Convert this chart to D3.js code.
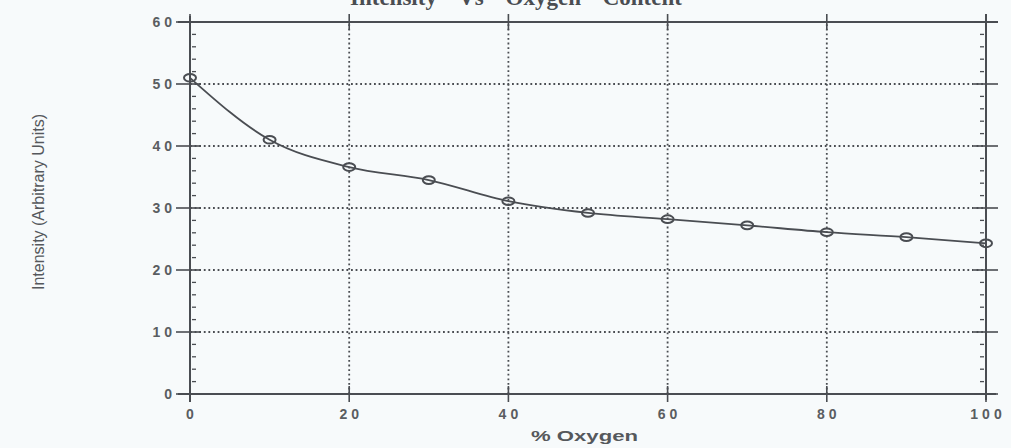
<!DOCTYPE html>
<html><head><meta charset="utf-8">
<script src="https://cdn.jsdelivr.net/npm/d3@7"></script>
<style>
html,body{margin:0;padding:0;background:#f7fafb;}
svg{display:block;}
</style></head><body>
<svg id="c" width="1011" height="448"></svg>
<script>
const oxygen = [0,10,20,30,40,50,60,70,80,90,100];
const intensity = [51,41,36.6,34.5,31.1,29.2,28.2,27.2,26.1,25.3,24.3];
const xTicks = [0,20,40,60,80,100];
const yTicks = [0,10,20,30,40,50,60];
const titleText = "Intensity Vs Oxygen Content";
const xLabel = "% Oxygen";
const yLabel = "Intensity (Arbitrary  Units)";

const svg = d3.select("#c");
const ink = "#4a4d52";
const x = d3.scaleLinear().domain([0,100]).range([190,986]);
const y = d3.scaleLinear().domain([0,60]).range([394,22]);

// title (cut off at top as in the reference)
svg.append("text").attr("x",350).attr("y",5)
  .attr("font-family","Liberation Serif, serif").attr("font-weight","bold")
  .attr("font-size",23).attr("fill",ink).attr("word-spacing","16px")
  .text(titleText);

// grid
const grid = svg.append("g").attr("stroke",ink).attr("stroke-width",1.8).attr("stroke-dasharray","1.8,2.8");
grid.selectAll(".gy").data(yTicks.filter(d=>d>0&&d<60)).join("line")
  .attr("x1",x(0)).attr("x2",x(100)).attr("y1",d=>y(d)).attr("y2",d=>y(d));
grid.selectAll(".gx").data(xTicks.filter(d=>d>0&&d<100)).join("line")
  .attr("y1",y(0)).attr("y2",y(60)).attr("x1",d=>x(d)).attr("x2",d=>x(d));

// frame
const fr = svg.append("g").attr("stroke",ink).attr("stroke-width",2);
fr.append("line").attr("x1",x(0)).attr("x2",x(0)).attr("y1",y(60)-6).attr("y2",y(0)+8);
fr.append("line").attr("x1",x(100)).attr("x2",x(100)).attr("y1",y(60)-8).attr("y2",y(0)+6);
fr.append("line").attr("x1",x(0)-12).attr("x2",x(100)+10).attr("y1",y(0)).attr("y2",y(0));
fr.append("line").attr("x1",x(0)-12).attr("x2",x(100)+12).attr("y1",y(60)).attr("y2",y(60));

// major y ticks on both axes
const tk = svg.append("g").attr("stroke",ink).attr("stroke-width",1.6);
tk.selectAll(".yl").data(yTicks).join("line")
  .attr("x1",x(0)-14).attr("x2",x(0)+10).attr("y1",d=>y(d)).attr("y2",d=>y(d));
tk.selectAll(".yr").data(yTicks).join("line")
  .attr("x1",x(100)-12).attr("x2",x(100)+12).attr("y1",d=>y(d)).attr("y2",d=>y(d));
// major x ticks top & bottom
tk.selectAll(".xb").data(xTicks).join("line")
  .attr("x1",d=>x(d)).attr("x2",d=>x(d)).attr("y1",y(0)-8).attr("y2",y(0)+8);
tk.selectAll(".xt").data(xTicks).join("line")
  .attr("x1",d=>x(d)).attr("x2",d=>x(d)).attr("y1",y(60)-8).attr("y2",y(60)+8);

// minor y ticks
const minor = d3.range(0,61,2).filter(d=>d%10!==0);
const mt = svg.append("g").attr("stroke",ink).attr("stroke-width",1.3);
mt.selectAll(".ml").data(minor).join("line")
  .attr("x1",x(0)+2).attr("x2",x(0)+6).attr("y1",d=>y(d)).attr("y2",d=>y(d));
mt.selectAll(".mr").data(minor).join("line")
  .attr("x1",x(100)-6).attr("x2",x(100)-2).attr("y1",d=>y(d)).attr("y2",d=>y(d));

// tick labels
const lab = svg.append("g").attr("font-family","Liberation Sans, Arial, sans-serif")
  .attr("font-weight","bold").attr("font-size",14).attr("fill","#5a5d61").attr("letter-spacing","4px");
lab.selectAll(".ty").data(yTicks).join("text")
  .attr("x",176).attr("y",d=>y(d)+5).attr("text-anchor","end").text(d=>d);
lab.selectAll(".tx").data(xTicks).join("text")
  .attr("x",d=>x(d)+2).attr("y",419).attr("text-anchor","middle").text(d=>d);

// axis titles
svg.append("text").attr("x",531).attr("y",441)
  .attr("font-family","Liberation Sans, Arial, sans-serif").attr("font-weight","bold")
  .attr("font-size",15).attr("fill","#55585c")
  .attr("textLength",107).attr("lengthAdjust","spacingAndGlyphs").text(xLabel);
svg.append("text").attr("transform","translate(44,290) rotate(-90)")
  .attr("font-family","Liberation Sans, Arial, sans-serif")
  .attr("font-size",17).attr("fill","#55585c")
  .attr("textLength",176).attr("lengthAdjust","spacingAndGlyphs").text(yLabel);

// curve
const pts = oxygen.map((o,i)=>[o,intensity[i]]);
svg.append("path").datum(pts)
  .attr("d",d3.line().x(d=>x(d[0])).y(d=>y(d[1])).curve(d3.curveMonotoneX))
  .attr("fill","none").attr("stroke",ink).attr("stroke-width",1.8);
svg.selectAll(".pt").data(pts).join("ellipse")
  .attr("cx",d=>x(d[0])).attr("cy",d=>y(d[1])).attr("rx",6).attr("ry",3.8)
  .attr("fill","none").attr("stroke",ink).attr("stroke-width",2);
</script></body></html>
